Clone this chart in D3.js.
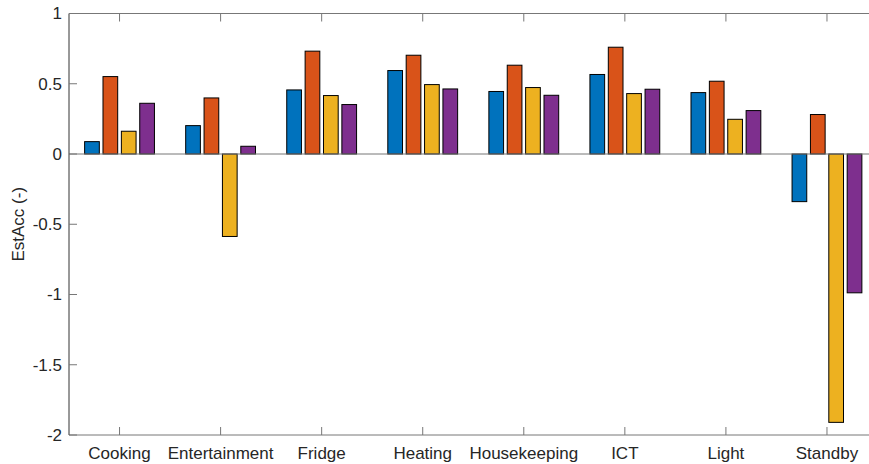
<!DOCTYPE html>
<html>
<head>
<meta charset="utf-8">
<script src="https://cdn.jsdelivr.net/npm/d3@7"></script>
<style>
  html, body { margin: 0; padding: 0; background: #fff; }
  svg { display: block; }
  text { font-family: "Liberation Sans", Arial, Helvetica, sans-serif; fill: #262626; }
</style>
</head>
<body>
<svg id="chart" width="869" height="464"></svg>
<script>
const categories = ["Cooking", "Entertainment", "Fridge", "Heating", "Housekeeping", "ICT", "Light", "Standby"];
const series1 = [0.088, 0.202, 0.456, 0.594, 0.445, 0.566, 0.437, -0.339];
const series2 = [0.551, 0.399, 0.732, 0.703, 0.632, 0.760, 0.518, 0.281];
const series3 = [0.162, -0.587, 0.416, 0.494, 0.473, 0.430, 0.247, -1.910];
const series4 = [0.361, 0.055, 0.352, 0.463, 0.418, 0.461, 0.309, -0.988];
const seriesColors = ["#0072BD", "#D95319", "#EDB120", "#7E2F8E"];
const yTicks = [1, 0.5, 0, -0.5, -1, -1.5, -2];
const yLabel = "EstAcc (-)";

const allSeries = [series1, series2, series3, series4];
const svg = d3.select("#chart");

const pLeft = 69, pRight = 877.5, pTop = 13.5, pBottom = 435;
const x = d3.scaleLinear().domain([0.5, categories.length + 0.5]).range([pLeft, pRight]);
const y = d3.scaleLinear().domain([-2, 1]).range([pBottom, pTop]);

// MATLAB grouped bar geometry
const nS = allSeries.length;
const groupWidth = Math.min(0.8, nS / (nS + 1.5));
const step = groupWidth / nS;
const barW = step * 0.8;

const tickLen = 8;
const fs = 17;

// bars
allSeries.forEach((vals, si) => {
  const off = -groupWidth / 2 + step * (si + 0.5);
  svg.append("g").selectAll("rect").data(vals).join("rect")
    .attr("x", (d, i) => x(i + 1 + off - barW / 2))
    .attr("width", (d, i) => x(i + 1 + off + barW / 2) - x(i + 1 + off - barW / 2))
    .attr("y", d => Math.min(y(d), y(0)))
    .attr("height", d => Math.abs(y(d) - y(0)))
    .attr("fill", seriesColors[si])
    .attr("stroke", "#000")
    .attr("stroke-width", 1);
});

// baseline
svg.append("line")
  .attr("x1", pLeft).attr("x2", pRight)
  .attr("y1", y(0)).attr("y2", y(0))
  .attr("stroke", "#777").attr("stroke-width", 1);

// box
const box = svg.append("g").attr("fill", "none").attr("stroke", "#777").attr("stroke-width", 1);
box.append("line").attr("x1", pLeft).attr("x2", pRight).attr("y1", pTop).attr("y2", pTop);
box.append("line").attr("x1", pLeft).attr("x2", pRight).attr("y1", pBottom).attr("y2", pBottom);
box.append("line").attr("x1", pLeft).attr("x2", pLeft).attr("y1", pTop).attr("y2", pBottom).attr("stroke", "#333");
box.append("line").attr("x1", pRight).attr("x2", pRight).attr("y1", pTop).attr("y2", pBottom);

// x ticks (bottom and top)
categories.forEach((c, i) => {
  const px = x(i + 1);
  box.append("line").attr("x1", px).attr("x2", px).attr("y1", pBottom).attr("y2", pBottom - tickLen);
  box.append("line").attr("x1", px).attr("x2", px).attr("y1", pTop).attr("y2", pTop + tickLen);
});
svg.append("g").selectAll("text").data(categories).join("text")
  .attr("x", (d, i) => x(i + 1))
  .attr("y", pBottom + 24)
  .attr("text-anchor", "middle")
  .attr("font-size", fs)
  .text(d => d);

// y ticks (left and right)
yTicks.forEach(t => {
  const py = y(t);
  box.append("line").attr("x1", pLeft).attr("x2", pLeft + tickLen).attr("y1", py).attr("y2", py);
  box.append("line").attr("x1", pRight).attr("x2", pRight - tickLen).attr("y1", py).attr("y2", py);
});
svg.append("g").selectAll("text").data(yTicks).join("text")
  .attr("x", pLeft - 7)
  .attr("y", d => y(d))
  .attr("dy", "0.35em")
  .attr("text-anchor", "end")
  .attr("font-size", fs)
  .text(d => String(d));

svg.append("text")
  .attr("transform", `translate(24,${(pTop + pBottom) / 2}) rotate(-90)`)
  .attr("text-anchor", "middle")
  .attr("font-size", fs)
  .text(yLabel);
</script>
</body>
</html>
